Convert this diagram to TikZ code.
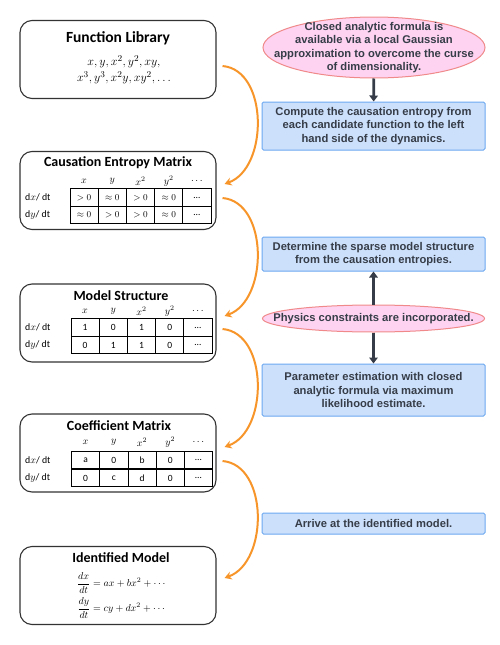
\documentclass[tikz,border=0pt]{standalone}
\usepackage{fontspec}
\usepackage{amsmath}
\usetikzlibrary{positioning,arrows.meta,shapes.geometric}
\newfontfamily\carlito{Carlito}
\newfontfamily\arialike{Liberation Sans}
\definecolor{boxfill}{HTML}{CCE0FB}
\definecolor{boxline}{HTML}{6CA8F0}
\definecolor{pinkfill}{HTML}{FDD3F1}
\definecolor{pinkline}{HTML}{F08A8A}
\definecolor{curve}{HTML}{F7952A}
\definecolor{ink}{HTML}{363D48}

\begin{document}
\begin{tikzpicture}[x=1pt,y=-1pt,
	stage/.style = {draw=black!80, line width=1.1pt, rounded corners=12pt, minimum width=196pt, minimum height=78pt},
	title/.style = {font=\carlito\bfseries\fontsize{14}{16}\selectfont},
	cell/.style = {draw, line width=0.7pt, minimum width=28.2pt, minimum height=17.5pt, inner sep=0pt, font=\carlito\fontsize{9.5}{10}\selectfont},
	head/.style = {font=\fontsize{10}{10}\selectfont},
	rowlab/.style = {anchor=west, inner sep=0pt, font=\carlito\fontsize{9.8}{10}\selectfont},
	action/.style = {draw=boxline, fill=boxfill, line width=1pt, rounded corners=1.5pt, minimum width=223pt, align=center, inner ysep=2pt, text=ink, font=\arialike\bfseries\fontsize{11.2}{13.5}\selectfont},
	remark/.style = {ellipse, draw=pinkline, fill=pinkfill, line width=1pt, minimum width=222pt, inner sep=0pt},
	remtext/.style = {align=center, text=ink, font=\arialike\bfseries\fontsize{11.2}{13.5}\selectfont},
	flow/.style = {curve, line width=2pt, -{Stealth[length=7pt,width=8pt]}},
	link/.style = {ink, line width=2.8pt, -{Triangle[length=6pt,width=8.5pt]}}
]
\useasboundingbox (0,0) rectangle (499,645);

% left column
\node[stage] (lib) at (118,59.5) {};
\node[title, font=\carlito\bfseries\fontsize{15.5}{17}\selectfont] (libtitle) at (118,38) {Function Library};
\node[font=\fontsize{12.5}{16}\selectfont, align=center] (libterms) at (124,70) {$x, y, x^2, y^2, xy,$\\ $x^3, y^3, x^2y, xy^2, \ldots$};

\node[stage] (ce) at (118,190.5) {};
\node[title] (cetitle) at (118,163) {Causation Entropy Matrix};
\foreach \h [count=\c] in {$x$,$y$,$x^2$,$y^2$,$\ldots$}
	\node[head] (ce-h-\c) at (55.9+28.2*\c,181) {\h};
\node[rowlab] (ce-r-1) at (25,197.5) {d$x$/ dt};
\node[rowlab] (ce-r-2) at (25,215) {d$y$/ dt};
\foreach \v [count=\c] in {$>0$,$\approx0$,$>0$,$\approx0$,\ldots}
	\node[cell] (ce-1-\c) at (55.9+28.2*\c,197.5) {\v};
\foreach \v [count=\c] in {$\approx0$,$>0$,$>0$,$\approx0$,\ldots}
	\node[cell] (ce-2-\c) at (55.9+28.2*\c,215) {\v};

\node[stage] (ms) at (118,323) {};
\node[title] (mstitle) at (121,296) {Model Structure};
\foreach \h [count=\c] in {$x$,$y$,$x^2$,$y^2$,$\ldots$}
	\node[head] (ms-h-\c) at (56.9+28.2*\c,311) {\h};
\node[rowlab] (ms-r-1) at (25,327.5) {d$x$/ dt};
\node[rowlab] (ms-r-2) at (25,345) {d$y$/ dt};
\foreach \v [count=\c] in {1,0,1,0,\ldots}
	\node[cell] (ms-1-\c) at (56.9+28.2*\c,327.5) {\v};
\foreach \v [count=\c] in {0,1,1,0,\ldots}
	\node[cell] (ms-2-\c) at (56.9+28.2*\c,345) {\v};

\node[stage] (cm) at (118,453) {};
\node[title] (cmtitle) at (119,426) {Coefficient Matrix};
\foreach \h [count=\c] in {$x$,$y$,$x^2$,$y^2$,$\ldots$}
	\node[head] (cm-h-\c) at (57.4+28.2*\c,442) {\h};
\node[rowlab] (cm-r-1) at (25,460) {d$x$/ dt};
\node[rowlab] (cm-r-2) at (25,478) {d$y$/ dt};
\foreach \v [count=\c] in {a,0,b,0,\ldots}
	\node[cell] (cm-1-\c) at (57.4+28.2*\c,460) {\v};
\foreach \v [count=\c] in {0,c,d,0,\ldots}
	\node[cell] (cm-2-\c) at (57.4+28.2*\c,478) {\v};

\node[stage] (im) at (118,585.5) {};
\node[title] (imtitle) at (121,558) {Identified Model};
\node[font=\fontsize{10}{12}\selectfont] (imeq-1) at (122,583) {$\displaystyle\frac{dx}{dt} = ax + bx^2 + \cdots$};
\node[font=\fontsize{10}{12}\selectfont] (imeq-2) at (122,608) {$\displaystyle\frac{dy}{dt} = cy + dx^2 + \cdots$};

% right column
\node[remark, minimum height=61pt] (closed) at (374,47.5) {};
\node[remtext] (closedtext) at (closed) {Closed analytic formula is\\ available via a local Gaussian\\ approximation to overcome the curse\\ of dimensionality.};
\node[action, minimum height=48pt] (compute) at (373.5,126) {Compute the causation entropy from\\ each candidate function to the left\\ hand side of the dynamics.};
\node[action, minimum height=34pt] (sparse) at (373.5,254) {Determine the sparse model structure\\ from the causation entropies.};
\node[remark, minimum height=27pt] (physics) at (373.5,318.5) {};
\node[remtext] (physicstext) at (physics) {Physics constraints are incorporated.};
\node[action, minimum height=52pt] (estimate) at (373.5,390) {Parameter estimation with closed\\ analytic formula via maximum\\ likelihood estimate.};
\node[action, minimum height=21pt] (arrive) at (373.5,523.5) {Arrive at the identified model.};

\draw[link] (closed) -- (compute);
\draw[link] (physics) -- (sparse);
\draw[link] (physics) -- (estimate);

% orange curves between stages
\draw[flow] ([xshift=6pt,yshift=-6.5pt]lib.east) .. controls +(46,4) and +(44,-16) .. ([xshift=8pt,yshift=6.5pt]ce.east);
\draw[flow] ([xshift=6pt,yshift=-7.5pt]ce.east) .. controls +(46,4) and +(44,-16) .. ([xshift=8pt,yshift=7pt]ms.east);
\draw[flow] ([xshift=6pt,yshift=-6pt]ms.east) .. controls +(46,4) and +(44,-16) .. ([xshift=8pt,yshift=6pt]cm.east);
\draw[flow] ([xshift=6pt,yshift=-8pt]cm.east) .. controls +(46,4) and +(44,-16) .. ([xshift=8pt,yshift=7.5pt]im.east);
\end{tikzpicture}
\end{document}
